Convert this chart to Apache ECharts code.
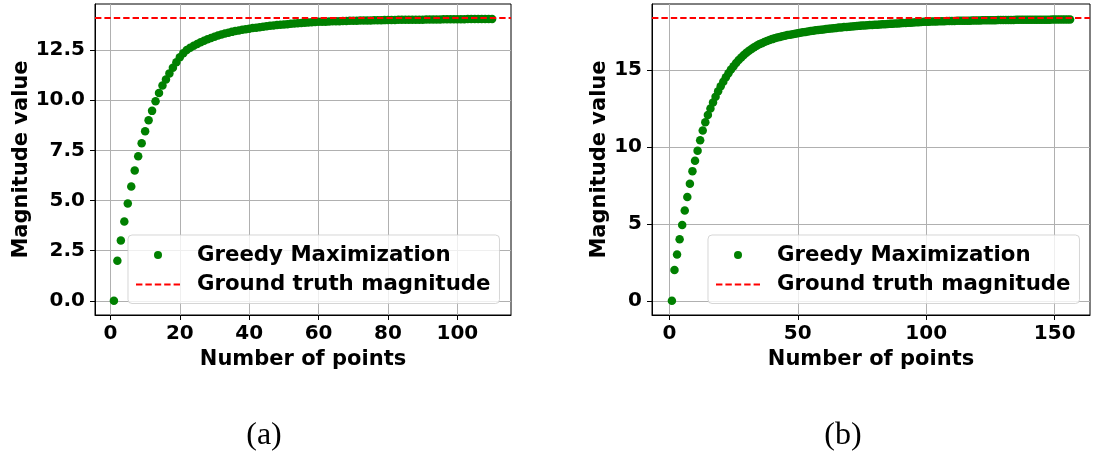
<!DOCTYPE html>
<html>
<head>
<meta charset="utf-8">
<script src="https://cdn.jsdelivr.net/npm/echarts@6/dist/echarts.min.js"></script>
<style>
  html, body { margin: 0; padding: 0; background: #fff; }
  #chart { width: 1093px; height: 456px; }
</style>
</head>
<body>
<div id="chart"></div>
<script>
// Greedy magnitude estimate after each added point, panel (a)
const greedyA = [
  0.00, 2.00, 3.00, 3.95, 4.85, 5.70, 6.50, 7.21, 7.86, 8.45,
  9.00, 9.47, 9.95, 10.36, 10.74, 11.04, 11.34, 11.62, 11.90, 12.15,
  12.35, 12.50, 12.62, 12.72, 12.81, 12.89, 12.97, 13.04, 13.11, 13.17,
  13.23, 13.28, 13.33, 13.37, 13.41, 13.45, 13.48, 13.51, 13.54, 13.57,
  13.60, 13.62, 13.645, 13.67, 13.69, 13.71, 13.73, 13.75, 13.765, 13.78,
  13.795, 13.81, 13.825, 13.84, 13.85, 13.86, 13.875, 13.89, 13.90, 13.91,
  13.915, 13.92, 13.93, 13.935, 13.94, 13.945, 13.95, 13.955, 13.96, 13.965,
  13.97, 13.973, 13.976, 13.98, 13.983, 13.986, 13.99, 13.993, 13.996, 14.00,
  14.00, 14.00, 14.01, 14.01, 14.01, 14.01, 14.02, 14.02, 14.02, 14.02,
  14.03, 14.03, 14.03, 14.03, 14.03, 14.04, 14.04, 14.04, 14.04, 14.04,
  14.04, 14.04, 14.05, 14.05, 14.05, 14.05, 14.05, 14.05, 14.05, 14.05
];
const truthA = 14.09;

// Greedy magnitude estimate after each added point, panel (b)
const greedyB = [
  0.00, 2.00, 3.00, 3.99, 4.93, 5.86, 6.74, 7.60, 8.42, 9.09,
  9.75, 10.43, 11.05, 11.59, 12.06, 12.48, 12.88, 13.25, 13.60, 13.93,
  14.23, 14.51, 14.77, 15.01, 15.23, 15.44, 15.63, 15.80, 15.96, 16.10,
  16.23, 16.35, 16.46, 16.56, 16.65, 16.73, 16.80, 16.87, 16.93, 16.99,
  17.04, 17.09, 17.13, 17.17, 17.21, 17.25, 17.28, 17.31, 17.34, 17.37,
  17.40, 17.43, 17.46, 17.48, 17.51, 17.53, 17.56, 17.58, 17.60, 17.62,
  17.64, 17.66, 17.68, 17.70, 17.72, 17.74, 17.75, 17.77, 17.78, 17.80,
  17.81, 17.83, 17.84, 17.85, 17.87, 17.88, 17.89, 17.90, 17.91, 17.92,
  17.93, 17.94, 17.95, 17.96, 17.97, 17.98, 17.99, 18.00, 18.01, 18.02,
  18.03, 18.04, 18.05, 18.06, 18.07, 18.08, 18.09, 18.10, 18.11, 18.12,
  18.125, 18.13, 18.135, 18.14, 18.145, 18.15, 18.155, 18.16, 18.165, 18.17,
  18.17, 18.175, 18.18, 18.18, 18.185, 18.19, 18.19, 18.195, 18.20, 18.20,
  18.205, 18.21, 18.21, 18.215, 18.215, 18.22, 18.22, 18.225, 18.225, 18.23,
  18.23, 18.23, 18.235, 18.235, 18.24, 18.24, 18.24, 18.245, 18.245, 18.245,
  18.25, 18.25, 18.25, 18.25, 18.255, 18.255, 18.255, 18.255, 18.26, 18.26,
  18.26, 18.26, 18.26, 18.265, 18.265, 18.265
];
const truthB = 18.35;

// Tick values
const xTicksA = [0, 20, 40, 60, 80, 100];
const yTicksA = [0, 2.5, 5, 7.5, 10, 12.5];
const xTicksB = [0, 50, 100, 150];
const yTicksB = [0, 5, 10, 15];

const panelLabels = ['(a)', '(b)'];
const seriesNames = ['Greedy Maximization', 'Ground truth magnitude'];

// x is the number of points used so far (1-based)
const toPairs = arr => arr.map((v, i) => [i + 1, v]);

const FONT = 'DejaVu Sans';
const GREEN = '#008000';
const RED = '#ff0000';
const DASH = [6.4, 3];
// five dashes for the legend swatch of the reference line
const DASH_ICON = 'path://M0,0h6.4v1.8h-6.4z M9.4,0h6.4v1.8h-6.4z M18.8,0h6.4v1.8h-6.4z M28.2,0h6.4v1.8h-6.4z M37.6,0h6.4v1.8h-6.4z';

function xAxisFor(gridIndex, min, max, ticks) {
  return {
    type: 'value', gridIndex, min, max,
    name: 'Number of points', nameLocation: 'middle', nameGap: 30,
    nameTextStyle: { fontFamily: FONT, fontWeight: 'bold', fontSize: 21, color: '#000' },
    axisLine: { show: true, onZero: false, lineStyle: { color: '#000', width: 1 } },
    axisTick: { show: true, inside: false, length: 5, customValues: ticks, lineStyle: { color: '#000', width: 1 } },
    axisLabel: { customValues: ticks, margin: 9, fontFamily: FONT, fontWeight: 'bold', fontSize: 20, color: '#000' },
    splitLine: { show: true, customValues: ticks, lineStyle: { color: '#b0b0b0', width: 1 } }
  };
}

function yAxisFor(gridIndex, min, max, ticks, fmt, nameGap) {
  return {
    type: 'value', gridIndex, min, max,
    name: 'Magnitude value', nameLocation: 'middle', nameGap, nameRotate: 90,
    nameTextStyle: { fontFamily: FONT, fontWeight: 'bold', fontSize: 21, color: '#000' },
    axisLine: { show: true, onZero: false, lineStyle: { color: '#000', width: 1 } },
    axisTick: { show: true, inside: false, length: 5, customValues: ticks, lineStyle: { color: '#000', width: 1 } },
    axisLabel: { customValues: ticks, margin: 10, formatter: fmt, fontFamily: FONT, fontWeight: 'bold', fontSize: 20, color: '#000' },
    splitLine: { show: true, customValues: ticks, lineStyle: { color: '#b0b0b0', width: 1 } }
  };
}

function scatterSeries(idx, data) {
  return {
    name: seriesNames[0], type: 'scatter', xAxisIndex: idx, yAxisIndex: idx,
    data: toPairs(data), symbol: 'circle', symbolSize: 8.5,
    itemStyle: { color: GREEN, opacity: 1 }, z: 3, animation: false
  };
}

function truthSeries(idx, value) {
  return {
    name: seriesNames[1], type: 'line', xAxisIndex: idx, yAxisIndex: idx,
    data: [], symbol: 'none', showSymbol: false, z: 4, animation: false,
    lineStyle: { color: RED, width: 1.8, type: DASH },
    itemStyle: { color: RED },
    markLine: {
      silent: true, symbol: 'none', animation: false, z: 4,
      label: { show: false },
      lineStyle: { color: RED, width: 1.8, type: DASH },
      data: [{ yAxis: value }]
    }
  };
}

function legendFor(left, top) {
  return {
    left, top, orient: 'vertical', align: 'left',
    itemWidth: 44, itemHeight: 8, itemGap: 7.5,
    padding: [9, 9, 8, 8],
    backgroundColor: 'rgba(255,255,255,0.8)',
    borderColor: 'rgba(204,204,204,0.8)', borderWidth: 1, borderRadius: 4,
    selectedMode: false,
    textStyle: { fontFamily: FONT, fontWeight: 'bold', fontSize: 21.3, color: '#000', lineHeight: 22, padding: [0, 0, 0, 12] },
    data: [
      { name: seriesNames[0], icon: 'circle', itemStyle: { color: GREEN } },
      { name: seriesNames[1], icon: DASH_ICON, itemStyle: { color: RED } }
    ]
  };
}

const chart = echarts.init(document.getElementById('chart'), null, { renderer: 'canvas' });

chart.setOption({
  animation: false,
  backgroundColor: '#fff',
  title: [
    { text: panelLabels[0], left: 259, top: 415, textAlign: 'center',
      textStyle: { fontFamily: 'Liberation Serif', fontWeight: 'normal', fontSize: 32, color: '#000' } },
    { text: panelLabels[1], left: 838, top: 415, textAlign: 'center',
      textStyle: { fontFamily: 'Liberation Serif', fontWeight: 'normal', fontSize: 32, color: '#000' } }
  ],
  grid: [
    { left: 95, top: 4, width: 416, height: 311, show: true, borderColor: '#000', borderWidth: 1, backgroundColor: 'transparent' },
    { left: 652, top: 4, width: 438, height: 311, show: true, borderColor: '#000', borderWidth: 1, backgroundColor: 'transparent' }
  ],
  xAxis: [
    xAxisFor(0, -4.45, 115.45, xTicksA),
    xAxisFor(1, -6.75, 163.75, xTicksB)
  ],
  yAxis: [
    yAxisFor(0, -0.71, 14.8, yTicksA, v => v.toFixed(1), 63),
    yAxisFor(1, -0.92, 19.27, yTicksB, v => String(v), 40)
  ],
  legend: [legendFor(128, 235), legendFor(708, 235)],
  series: [
    scatterSeries(0, greedyA),
    truthSeries(0, truthA),
    scatterSeries(1, greedyB),
    truthSeries(1, truthB)
  ]
});
</script>
</body>
</html>
